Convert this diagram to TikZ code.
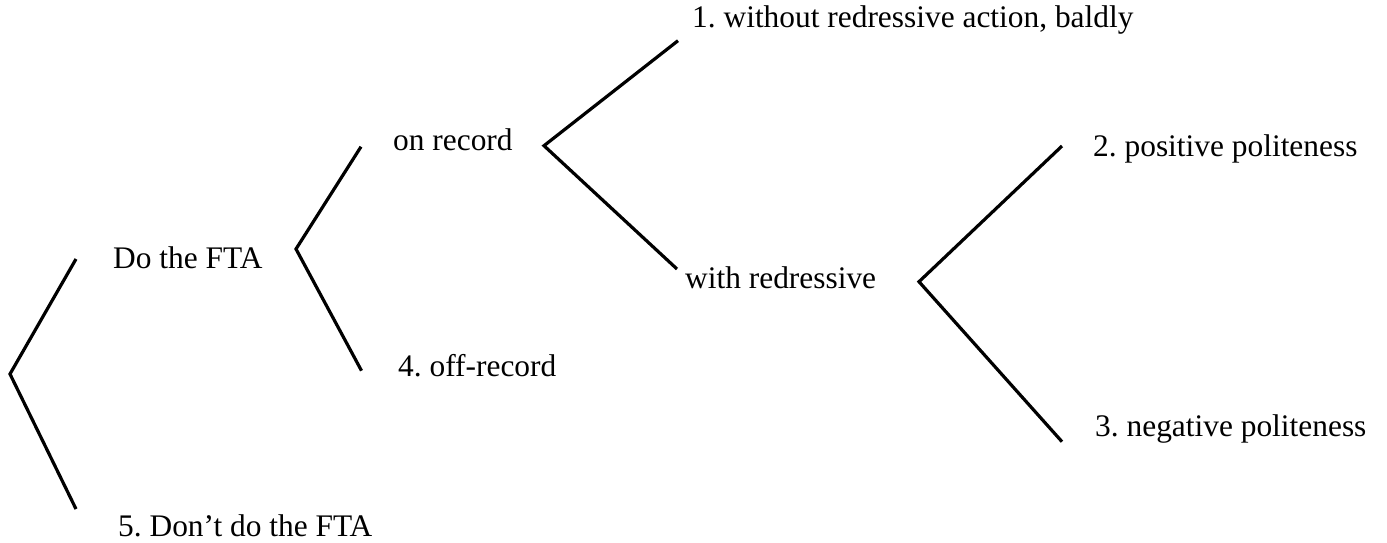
\documentclass[tikz,border=0pt]{standalone}
\usepackage{fontspec}
\setmainfont{Liberation Serif}
\frenchspacing
\begin{document}
\begin{tikzpicture}[x=1pt,y=-1pt,
  label/.style={anchor=base west,inner sep=0pt,font=\fontsize{31.4}{37}\selectfont},
  branch/.style={line width=3.2pt,line cap=butt,line join=miter}]
\useasboundingbox (0,0) rectangle (1387,542);

% labels
\node[label] (dofta)  at (113,268)   {Do the FTA};
\node[label] (dont)   at (118,536.7) {5. Don’t do the FTA};
\node[label] (onrec)  at (393,150.7) {on record};
\node[label] (offrec) at (398,376)   {4. off-record};
\node[label] (bald)   at (692,27)    {1. without redressive action, baldly};
\node[label] (withr)  at (685,288)   {with redressive};
\node[label] (pos)    at (1093,156.7){2. positive politeness};
\node[label] (neg)    at (1095,436.7){3. negative politeness};

% branch points and branch ends
\coordinate (v1) at (10,374);
\coordinate (a1) at (76,259);
\coordinate (b1) at (76,509);
\coordinate (v2) at (296,249);
\coordinate (a2) at (361,146.7);
\coordinate (b2) at (361.5,370.7);
\coordinate (v3) at (544,145.7);
\coordinate (a3) at (678,40.7);
\coordinate (b3) at (677,269);
\coordinate (v4) at (919,281.7);
\coordinate (a4) at (1062,146);
\coordinate (b4) at (1062,441.7);

% the decision tree
\draw[branch] (a1) -- (v1) -- (b1);
\draw[branch] (a2) -- (v2) -- (b2);
\draw[branch] (a3) -- (v3) -- (b3);
\draw[branch] (a4) -- (v4) -- (b4);
\end{tikzpicture}
\end{document}
